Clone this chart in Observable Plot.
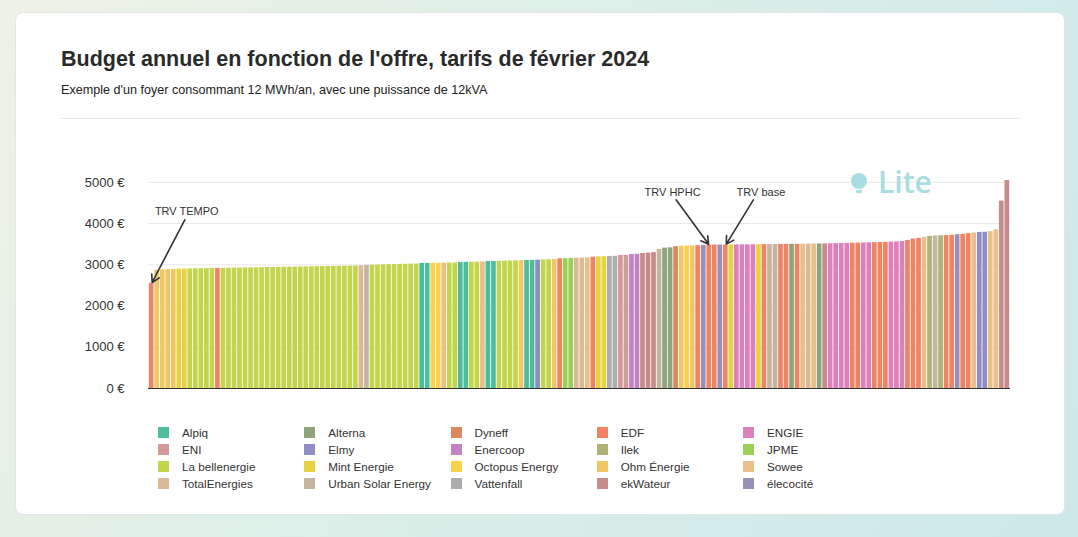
<!DOCTYPE html>
<html>
<head>
<meta charset="utf-8">
<script src="https://cdn.jsdelivr.net/npm/d3@7"></script>
<script src="https://cdn.jsdelivr.net/npm/@observablehq/plot@0.6"></script>
<style>
html, body { margin: 0; padding: 0; }
body {
  width: 1078px; height: 537px; overflow: hidden; position: relative;
  background: linear-gradient(120deg, #eef2e4 0%, #dcefe8 45%, #cce8ea 100%);
  font-family: "Liberation Sans", Arial, Helvetica, sans-serif;
}
#card { position: absolute; left: 15px; top: 12px; width: 1050px; height: 503px;
  background: #fff; border-radius: 8px; border: 1px solid #e2e6e6; box-sizing: border-box; }
#title { position: absolute; left: 61px; top: 49px; font-size: 21.5px; line-height: 21.5px;
  font-weight: bold; color: #2a2a2a; white-space: nowrap; }
#subtitle { position: absolute; left: 61px; top: 84px; font-size: 12.6px; line-height: 12.6px;
  color: #222; white-space: nowrap; }
#sep { position: absolute; left: 61px; top: 118px; width: 959px; height: 1px; background: #e9e9e9; }
#chart { position: absolute; left: 61px; top: 160px; }
#wm { position: absolute; left: 850px; top: 165px; pointer-events: none; }
#wm .bulb { position: absolute; left: 1px; top: 8px; width: 16px; height: 16px; border-radius: 50%; background: #a8dde2; }
#wm .stem { position: absolute; left: 6px; top: 25px; width: 6px; height: 3px; border-radius: 1px; background: #a8dde2; }
#wm .txt { position: absolute; left: 28px; top: -2px; font-family: "Open Sans", "DejaVu Sans", sans-serif;
  font-weight: 600; font-size: 30px; line-height: 38px; color: #a8dde2; white-space: nowrap; }
#legend { position: absolute; left: 158px; top: 424px; display: grid;
  grid-template-columns: repeat(5, 146.25px); grid-auto-rows: 17px; }
#legend .item { display: flex; align-items: center; font-size: 11.7px; color: #333; white-space: nowrap; }
#legend .sw { width: 11px; height: 11px; margin-right: 13px; flex: none; }
</style>
</head>
<body>
<div id="card"></div>
<div id="title">Budget annuel en fonction de l'offre, tarifs de février 2024</div>
<div id="subtitle">Exemple d'un foyer consommant 12 MWh/an, avec une puissance de 12kVA</div>
<div id="sep"></div>
<div id="chart"></div>
<div id="wm"><div class="bulb"></div><div class="stem"></div><div class="txt">Lite</div></div>
<div id="legend"></div>
<script>
// ---- Data ----
const suppliers = ["Alpiq", "Alterna", "Dyneff", "EDF", "ENGIE", "ENI", "Elmy", "Enercoop", "Ilek", "JPME",
  "La bellenergie", "Mint Energie", "Octopus Energy", "Ohm Énergie", "Sowee", "TotalEnergies",
  "Urban Solar Energy", "Vattenfall", "ekWateur", "élecocité"];

const supplierColors = ["#4dbd9c", "#8fa47c", "#d98b5f", "#ef8465", "#de80bb", "#d49a97", "#8f8dc4", "#c283c3",
  "#b1b278", "#9bcf55", "#c3d54c", "#e7d23f", "#fad14c", "#f1c664", "#e8c08a", "#dbb996",
  "#c3b59f", "#adadad", "#c68b8b", "#9791b8"];

// supplier (index into suppliers) of each offer, sorted by budget
const barSupplier = [
  3, 13, 13, 13, 13, 11, 11, 10, 10, 10, 10, 10, 3,
  10, 10, 10, 10, 10, 10, 10, 10, 10, 10, 10, 10, 10, 10, 10, 10, 10, 10, 10, 10, 10, 10, 10, 10, 10,
  15, 16,
  10, 10, 10, 10, 10, 10, 10, 10, 10,
  0, 0, 12, 12, 14, 10, 10, 0, 0, 10, 10, 14, 0, 0, 10, 10, 10, 10, 13, 0, 0, 6, 10, 10, 13, 3,
  9, 9, 15, 15, 14, 3, 11, 11, 17, 17, 5, 5, 7, 7, 18, 18, 18, 16, 1, 1, 2, 13, 12, 13, 3,
  19, 3, 3, 19, 3, 11, 4, 4, 4, 4, 11, 3, 16, 16, 3, 3, 1, 3, 14, 15, 14, 1, 18,
  4, 4, 4, 4, 3, 3, 4, 4, 3, 3, 3, 4, 4, 4, 3, 3, 3, 14, 8, 16, 8, 3, 3, 19, 3, 3, 14, 6, 6, 14, 14, 18, 18];

// annual budget (€) of each offer
const budget = [
  2550, 2868, 2878, 2884, 2888, 2893, 2897, 2900, 2902, 2905, 2907, 2910, 2913,
  2915, 2918, 2920, 2922, 2925, 2927, 2929, 2931, 2934, 2936, 2938, 2940, 2943, 2945, 2947, 2950, 2952, 2954, 2957, 2959, 2961, 2963, 2966, 2968, 2970,
  2978, 2985,
  2990, 2995, 3000, 3003, 3006, 3010, 3013, 3016, 3020,
  3032, 3034, 3036, 3038, 3040, 3043, 3046, 3055, 3058, 3062, 3065, 3070, 3080, 3083, 3086, 3089, 3092, 3095, 3100, 3105, 3108, 3112, 3118, 3122, 3128, 3145,
  3150, 3154, 3160, 3163, 3167, 3185, 3192, 3196, 3203, 3206, 3225, 3230, 3250, 3256, 3275, 3285, 3295, 3372, 3405, 3412, 3440, 3452, 3455, 3458, 3463,
  3472, 3478, 3479, 3479, 3480, 3482, 3484, 3485, 3485, 3486, 3488, 3490, 3492, 3493, 3495, 3496, 3498, 3499, 3500, 3502, 3504, 3507, 3508,
  3512, 3515, 3518, 3520, 3524, 3527, 3530, 3533, 3538, 3541, 3545, 3550, 3555, 3565, 3590, 3625, 3642, 3665, 3690, 3700, 3705, 3710, 3715, 3730, 3740, 3755, 3770, 3785, 3790, 3805, 3850, 4545, 5045];

const yTicks = [0, 1000, 2000, 3000, 4000, 5000];

// annotations: label, target offer, label anchor offer & value, arrow start offer & value
const annoLabels = ["TRV TEMPO", "TRV HPHC", "TRV base"];
const annoTarget = [0, 101, 104];
const annoTextBar = [6, 94, 110];
const annoTextValue = [4293, 4754, 4754];
const annoStartBar = [6, 95, 109];
const annoStartValue = [4092, 4577, 4577];

// ---- Build tables ----
const offers = budget.map((v, i) => ({i, value: v, supplier: suppliers[barSupplier[i]]}));
const annos = annoLabels.map((label, k) => ({
  label,
  target: annoTarget[k],
  targetValue: budget[annoTarget[k]],
  textBar: annoTextBar[k],
  textValue: annoTextValue[k],
  startBar: annoStartBar[k],
  startValue: annoStartValue[k]
}));

const chart = Plot.plot({
  width: 959,
  height: 235,
  marginLeft: 87,
  marginRight: 10,
  marginTop: 20,
  marginBottom: 7,
  style: {fontFamily: "'Liberation Sans', Arial, sans-serif", color: "#333", background: "transparent", overflow: "visible"},
  x: {type: "band", domain: d3.range(budget.length), padding: 0.15, axis: null},
  y: {domain: [0, d3.max(budget)], axis: null},
  color: {domain: suppliers, range: supplierColors},
  marks: [
    Plot.gridY(yTicks, {stroke: "#e8e8e8", strokeOpacity: 1}),
    Plot.axisY(yTicks, {tickSize: 0, tickPadding: 24, tickFormat: d => d + " €", fontSize: 13, label: null}),
    Plot.barY(offers, {x: "i", y: "value", fill: "supplier"}),
    Plot.ruleY([0], {stroke: "#333", strokeWidth: 1}),
    Plot.arrow(annos, {x1: "startBar", y1: "startValue", x2: "target", y2: "targetValue",
      stroke: "#333", strokeWidth: 1.6, headLength: 8, insetEnd: 1}),
    Plot.text(annos, {x: "textBar", y: "textValue", text: "label", dx: 2, fontSize: 11, fill: "#333"})
  ]
});
document.getElementById("chart").appendChild(chart);

// ---- Legend ----
const legend = document.getElementById("legend");
suppliers.forEach((s, k) => {
  const item = document.createElement("div");
  item.className = "item";
  const sw = document.createElement("span");
  sw.className = "sw";
  sw.style.background = supplierColors[k];
  item.appendChild(sw);
  item.appendChild(document.createTextNode(s));
  legend.appendChild(item);
});
</script>
</body>
</html>
